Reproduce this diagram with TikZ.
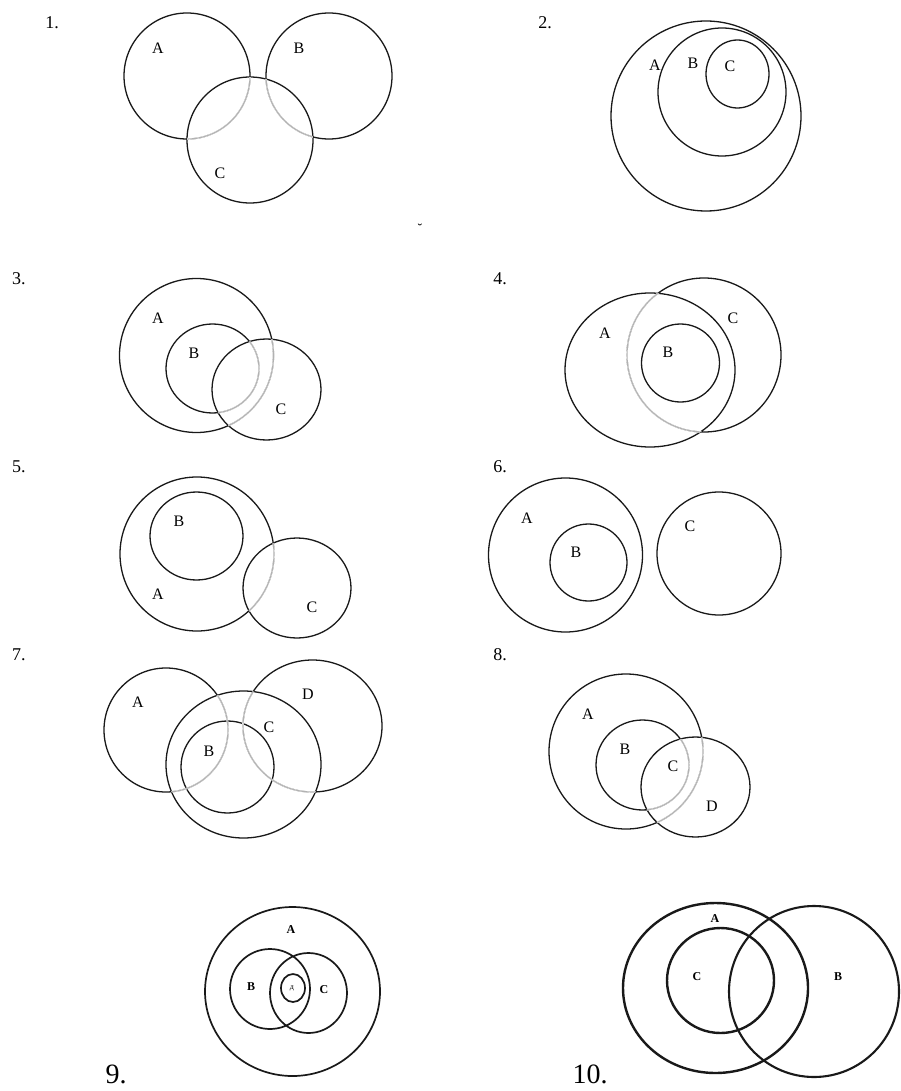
\documentclass[tikz,border=0pt]{standalone}
\usepackage{fontspec}
\setmainfont{Liberation Serif}
\tikzset{
  ring/.style={line width=1.3pt, black!90},
  faint/.style={line width=1.1pt, black!30},
  heavy/.style={line width=1.7pt, black!90},
  heavier/.style={line width=2.4pt, black!90},
  lbl/.style={inner sep=0pt, font=\fontsize{16}{18}\selectfont},
  num/.style={inner sep=0pt, font=\fontsize{18}{20}\selectfont},
  bignum/.style={inner sep=0pt, font=\fontsize{28}{32}\selectfont},
  small/.style={inner sep=0pt, font=\bfseries\fontsize{12}{14}\selectfont},
}
% part of a circle that runs inside another one is drawn faint
\newcommand{\hidearc}[2]{%
  \begin{scope}
    \clip #1;
    \draw[white, line width=1.7pt] #2;
    \draw[faint] #2;
  \end{scope}}

\begin{document}
\begin{tikzpicture}[x=1pt, y=-1pt]
  \useasboundingbox (0,0) rectangle (900,1091);
  % 1.
  \node[num] (n1) at (52,23) {1.};
  \coordinate (oneA) at (187,76);
  \coordinate (oneB) at (329,76);
  \coordinate (oneC) at (250,140);
  \draw[ring] (oneA) circle (63) (oneB) circle (63) (oneC) circle (63);
  \hidearc{(oneC) circle (63)}{(oneA) circle (63)}
  \hidearc{(oneC) circle (63)}{(oneB) circle (63)}
  \node[lbl] (oneLA) at (158,48) {A};
  \node[lbl] (oneLB) at (299,48) {B};
  \node[lbl] (oneLC) at (220,173) {C};
  \node[inner sep=0pt, font=\fontsize{14}{14}\selectfont] (mark) at (420,229) {˘};
  % 2.
  \node[num] (n2) at (545,23) {2.};
  \coordinate (twoA) at (706,116);
  \coordinate (twoB) at (722,92);
  \coordinate (twoC) at (737.5,74);
  \draw[ring] (twoA) circle (95) (twoB) circle (64) (twoC) ellipse (31.5 and 34);
  \node[lbl] (twoLA) at (655,65) {A};
  \node[lbl] (twoLB) at (693,63) {B};
  \node[lbl] (twoLC) at (730,66) {C};
  % 3.
  \node[num] (n3) at (19,279) {3.};
  \coordinate (threeA) at (196.5,355.5);
  \coordinate (threeB) at (212.5,368.5);
  \coordinate (threeC) at (266.5,389.5);
  \draw[ring] (threeA) circle (77) (threeB) ellipse (46.5 and 44.5)
    (threeC) ellipse (54.5 and 50.5);
  \hidearc{(threeC) ellipse (54.5 and 50.5)}{(threeA) circle (77)}
  \hidearc{(threeC) ellipse (54.5 and 50.5)}{(threeB) ellipse (46.5 and 44.5)}
  \node[lbl] (threeLA) at (158,318) {A};
  \node[lbl] (threeLB) at (194,353) {B};
  \node[lbl] (threeLC) at (281,409) {C};
  % 4.
  \node[num] (n4) at (500,279) {4.};
  \coordinate (fourA) at (650,370);
  \coordinate (fourB) at (680.5,363);
  \coordinate (fourC) at (704,355);
  \draw[ring] (fourA) ellipse (85 and 77) (fourB) circle (39) (fourC) circle (77);
  \hidearc{(fourA) ellipse (85 and 77)}{(fourC) circle (77)}
  \node[lbl] (fourLA) at (605,333) {A};
  \node[lbl] (fourLB) at (668,352) {B};
  \node[lbl] (fourLC) at (733,318) {C};
  % 5.
  \node[num] (n5) at (19,467) {5.};
  \coordinate (fiveA) at (197,554);
  \coordinate (fiveB) at (196.5,536);
  \coordinate (fiveC) at (297,588);
  \draw[ring] (fiveA) circle (77) (fiveB) ellipse (46.5 and 44)
    (fiveC) ellipse (54 and 50);
  \hidearc{(fiveC) ellipse (54 and 50)}{(fiveA) circle (77)}
  \node[lbl] (fiveLB) at (179,521) {B};
  \node[lbl] (fiveLA) at (158,594) {A};
  \node[lbl] (fiveLC) at (312,607) {C};
  % 6.
  \node[num] (n6) at (500,467) {6.};
  \coordinate (sixA) at (565.5,555);
  \coordinate (sixB) at (588.5,562.5);
  \coordinate (sixC) at (719,553.5);
  \draw[ring] (sixA) circle (77) (sixB) circle (38.5) (sixC) ellipse (62 and 61.5);
  \node[lbl] (sixLA) at (527,518) {A};
  \node[lbl] (sixLB) at (576,552) {B};
  \node[lbl] (sixLC) at (690,526) {C};
  % 7.
  \node[num] (n7) at (19,655) {7.};
  \coordinate (sevenA) at (166,730);
  \coordinate (sevenB) at (227.5,767);
  \coordinate (sevenC) at (243.5,764.5);
  \coordinate (sevenD) at (312.5,726);
  \draw[ring] (sevenA) circle (62) (sevenB) ellipse (46.5 and 46)
    (sevenC) ellipse (77.5 and 73.5) (sevenD) ellipse (69.5 and 66);
  \hidearc{(sevenC) ellipse (77.5 and 73.5)}{(sevenA) circle (62)}
  \hidearc{(sevenC) ellipse (77.5 and 73.5)}{(sevenD) ellipse (69.5 and 66)}
  \node[lbl] (sevenLA) at (138,702) {A};
  \node[lbl] (sevenLD) at (308,694) {D};
  \node[lbl] (sevenLC) at (269,727) {C};
  \node[lbl] (sevenLB) at (209,751) {B};
  % 8.
  \node[num] (n8) at (500,655) {8.};
  \coordinate (eightA) at (626,751.5);
  \coordinate (eightB) at (642.5,765);
  \coordinate (eightD) at (695.5,787);
  \draw[ring] (eightA) ellipse (77 and 77.5) (eightB) ellipse (46.5 and 45)
    (eightD) ellipse (54.5 and 50);
  \hidearc{(eightD) ellipse (54.5 and 50)}{(eightA) ellipse (77 and 77.5)}
  \hidearc{(eightD) ellipse (54.5 and 50)}{(eightB) ellipse (46.5 and 45)}
  \node[lbl] (eightLA) at (588,714) {A};
  \node[lbl] (eightLB) at (625,749) {B};
  \node[lbl] (eightLC) at (673,766) {C};
  \node[lbl] (eightLD) at (712,806) {D};
  % 9.
  \node[bignum] (n9) at (116,1074) {9.};
  \coordinate (nineA) at (292.5,991.5);
  \coordinate (nineB) at (270,989);
  \coordinate (nineC) at (308.5,993);
  \coordinate (nineD) at (293,988);
  \draw[heavy] (nineA) ellipse (87.5 and 84.5) (nineB) circle (40)
    (nineC) ellipse (38.5 and 40) (nineD) ellipse (12 and 14);
  \node[small] (nineLA) at (291,930) {A};
  \node[small] (nineLB) at (251,987) {B};
  \node[small] (nineLC) at (324,990) {C};
  \node[inner sep=0pt, font=\fontsize{8}{9}\selectfont] (nineLD) at (292,988) {д};
  % 10.
  \node[bignum] (n10) at (590,1074) {10.};
  \coordinate (tenA) at (715.5,988);
  \coordinate (tenB) at (814,991.5);
  \coordinate (tenC) at (720.5,980.5);
  \draw[heavier] (tenA) ellipse (92.5 and 85) (tenC) ellipse (53.5 and 52.5);
  \draw[heavier, line width=2.1pt] (tenB) ellipse (85 and 85.5);
  \node[small] (tenLA) at (715,919) {A};
  \node[small] (tenLC) at (697,977) {C};
  \node[small] (tenLB) at (838,977) {B};
\end{tikzpicture}
\end{document}
